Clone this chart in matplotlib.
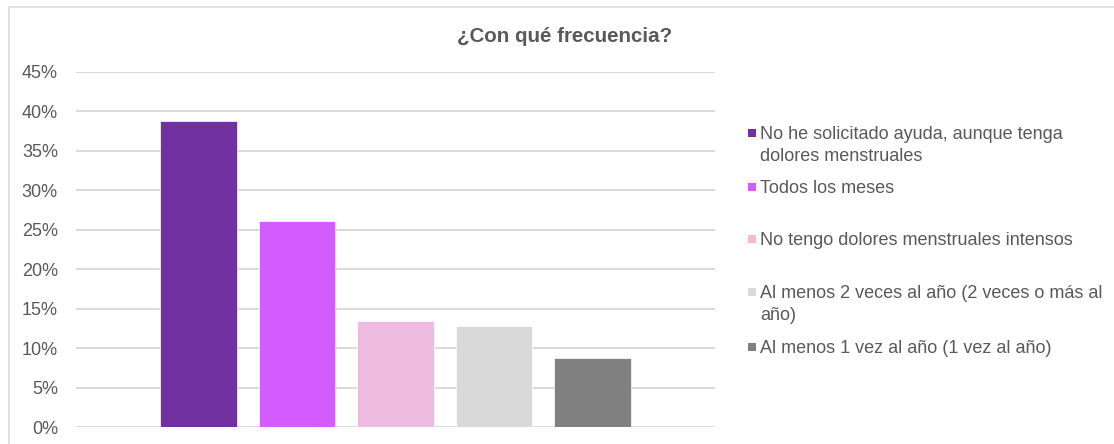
import matplotlib.pyplot as plt
from matplotlib.patches import Rectangle

plt.rcParams['font.family'] = ['Liberation Sans', 'DejaVu Sans']

# ---- data ----
labels = [
    'No he solicitado ayuda, aunque tenga\ndolores menstruales',
    'Todos los meses',
    'No tengo dolores menstruales intensos',
    'Al menos 2 veces al año (2 veces o más al\naño)',
    'Al menos 1 vez al año (1 vez al año)',
]
values = [0.388, 0.261, 0.134, 0.128, 0.088]
colors = ['#7030A0', '#D35CFF', '#EDBBE0', '#D9D9D9', '#808080']
yticks = [0, 0.05, 0.10, 0.15, 0.20, 0.25, 0.30, 0.35, 0.40, 0.45]

TXT = '#595959'
GRID = '#D9D9D9'
W, H = 1114, 444

fig = plt.figure(figsize=(W / 100, H / 100), dpi=100)
fig.patch.set_facecolor('white')

# chart-area border
fig.add_artist(Rectangle((9 / W, -0.05), 1.1, 1 - 7 / H + 0.05, transform=fig.transFigure,
                         facecolor='none', edgecolor=GRID, linewidth=1.2))

ax = fig.add_axes([76 / W, 1 - 427 / H, (715 - 76) / W, (427 - 72) / H])
x = range(len(values))
ax.bar(x, values, width=0.78, color=colors, edgecolor='white', linewidth=0.5, zorder=3)
ax.set_xlim(-1.244, len(values) - 1 + 1.244)
ax.set_ylim(0, 0.45)
ax.set_yticks(yticks)
ax.set_yticklabels([f'{int(round(v * 100))}%' for v in yticks], fontsize=13, color=TXT)
ax.set_xticks([])
ax.yaxis.grid(True, color=GRID, linewidth=1.4, zorder=0)
ax.tick_params(axis='y', length=0, pad=13)
for s in ax.spines.values():
    s.set_visible(False)

fig.text(565 / W, 1 - 37 / H, '¿Con qué frecuencia?', ha='center', va='center',
         fontsize=14.8, fontweight='bold', color=TXT)

# legend (manual, Excel-like spacing)
leg_y = [133, 187, 239, 292, 347]
for lab, c, yp in zip(labels, colors, leg_y):
    fig.add_artist(Rectangle((748 / W, 1 - (yp + 4) / H), 8 / W, 8 / H,
                             transform=fig.transFigure, facecolor=c, edgecolor='none'))
    fig.text(760 / W, 1 - (yp - 7) / H, lab, ha='left', va='top', fontsize=13,
             color=TXT, linespacing=1.39)

fig.savefig('out.png', dpi=100, facecolor='white')
